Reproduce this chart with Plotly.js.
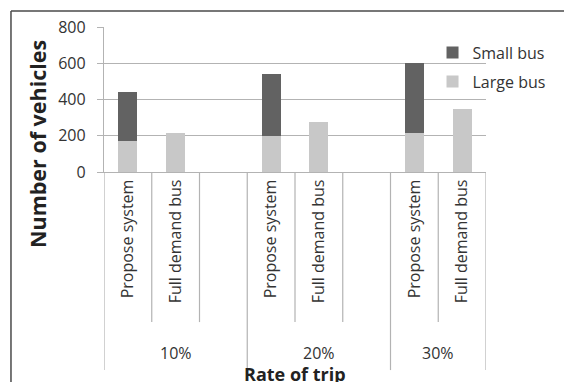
<!DOCTYPE html>
<html>
<head>
<meta charset="utf-8">
<script src="https://cdn.plot.ly/plotly-3.0.1.min.js"></script>
<style>
  html, body { margin: 0; padding: 0; background: #fff; }
  #chart { width: 564px; height: 382px; }
</style>
</head>
<body>
<div id="chart"></div>
<script>
// Trip-rate groups and the two systems compared in each group
const groups = ['10%', '20%', '30%'];
const systems = ['Propose system', 'Full demand bus'];

// Vehicle counts per group: [Propose system, Full demand bus]
const largeBus = [[171, 213], [200, 277], [216, 347]];
const smallBus = [[271, null], [340, null], [388, null]];

// Each group takes three slots (two bars + a spacer); the last group has no spacer
const slotsPerGroup = 3;
const xs = [], large = [], small = [], tickVals = [], tickText = [];
groups.forEach((g, gi) => {
  systems.forEach((s, si) => {
    const pos = gi * slotsPerGroup + si;
    xs.push(pos);
    large.push(largeBus[gi][si]);
    small.push(smallBus[gi][si]);
    tickVals.push(pos);
    tickText.push(s);
  });
});
const xMin = -0.5;
const xMax = (groups.length - 1) * slotsPerGroup + systems.length - 0.5;

const FONT = 'Open Sans, Lato, sans-serif';
const TXT = '#333333';
const LINE = '#b3b3b3';

const traces = [
  { type: 'bar', name: 'Large bus', legendgroup: 'large', legendrank: 2, x: xs, y: large, width: 0.4,
    marker: { color: '#c8c8c8' }, hoverinfo: 'x+y+name' },
  { type: 'bar', name: 'Small bus', legendgroup: 'small', legendrank: 1, x: xs, y: small, width: 0.4,
    marker: { color: '#626262' }, hoverinfo: 'x+y+name' }
];

// Category separators below the axis: short ones between slots, long ones between groups
const shapes = [];
const below = -1.035, belowGroup = -1.366;
for (let b = xMin; b <= xMax + 1e-9; b += 1) {
  const isGroupEdge = Math.abs(((b + 0.5) % slotsPerGroup)) < 1e-9 || Math.abs(b - xMax) < 1e-9;
  shapes.push({ type: 'line', xref: 'x', yref: 'paper', x0: b, x1: b, y0: 0,
    y1: isGroupEdge ? belowGroup : below, line: { color: LINE, width: 1.2 } });
}
// Frame around the figure (top and left edges)
shapes.push({ type: 'line', xref: 'paper', yref: 'paper', x0: -0.2435, x1: 1.25, y0: 1.11, y1: 1.11,
  line: { color: '#4a4a4a', width: 1.5 } });
shapes.push({ type: 'line', xref: 'paper', yref: 'paper', x0: -0.2435, x1: -0.2435, y0: 1.11, y1: -1.6,
  line: { color: '#4a4a4a', width: 1.5 } });

const annotations = groups.map((g, gi) => {
  const first = gi * slotsPerGroup - 0.5;
  const last = gi < groups.length - 1 ? first + slotsPerGroup : xMax;
  return { text: g, xref: 'x', yref: 'paper', x: (first + last) / 2, y: -1.248,
    showarrow: false, xanchor: 'center', yanchor: 'middle',
    font: { family: FONT, size: 16, color: TXT } };
});
annotations.push({ text: '<b>Number of vehicles</b>', xref: 'paper', yref: 'paper',
  x: -0.174, y: 0.19, textangle: -90, showarrow: false, xanchor: 'center', yanchor: 'middle',
  font: { family: FONT, size: 21.5, color: '#222' } });
annotations.push({ text: '<b>Rate of trip</b>', xref: 'paper', yref: 'paper',
  x: 0.5, y: -1.393, showarrow: false, xanchor: 'center', yanchor: 'middle',
  font: { family: FONT, size: 18, color: '#222' } });

const layout = {
  width: 564, height: 382,
  margin: { l: 104, r: 78, t: 27, b: 210, autoexpand: false },
  paper_bgcolor: '#fff', plot_bgcolor: '#fff',
  barmode: 'stack',
  font: { family: FONT, size: 16, color: TXT },
  showlegend: true,
  legend: { x: 0.86, y: 0.94, xanchor: 'left', yanchor: 'top', traceorder: 'grouped',
    font: { family: FONT, size: 16, color: TXT }, bgcolor: 'rgba(0,0,0,0)',
    itemwidth: 30, tracegroupgap: 5 },
  xaxis: {
    type: 'linear', range: [xMin, xMax], tickmode: 'array',
    tickvals: tickVals, ticktext: tickText, tickangle: -90,
    ticks: '', showgrid: false, zeroline: false,
    showline: true, linecolor: LINE, linewidth: 1.2,
    tickfont: { family: FONT, size: 16, color: TXT }, fixedrange: true
  },
  yaxis: {
    range: [0, 800], tickvals: [0, 200, 400, 600, 800],
    ticks: 'outside', ticklen: 6, tickcolor: LINE, ticklabelstandoff: 8,
    showgrid: true, gridcolor: LINE, gridwidth: 1.2,
    showline: true, linecolor: LINE, linewidth: 1.2, zeroline: false,
    tickfont: { family: FONT, size: 16, color: TXT }, fixedrange: true
  },
  shapes: shapes,
  annotations: annotations
};

Plotly.newPlot('chart', traces, layout, { displayModeBar: false, staticPlot: true });
</script>
</body>
</html>
